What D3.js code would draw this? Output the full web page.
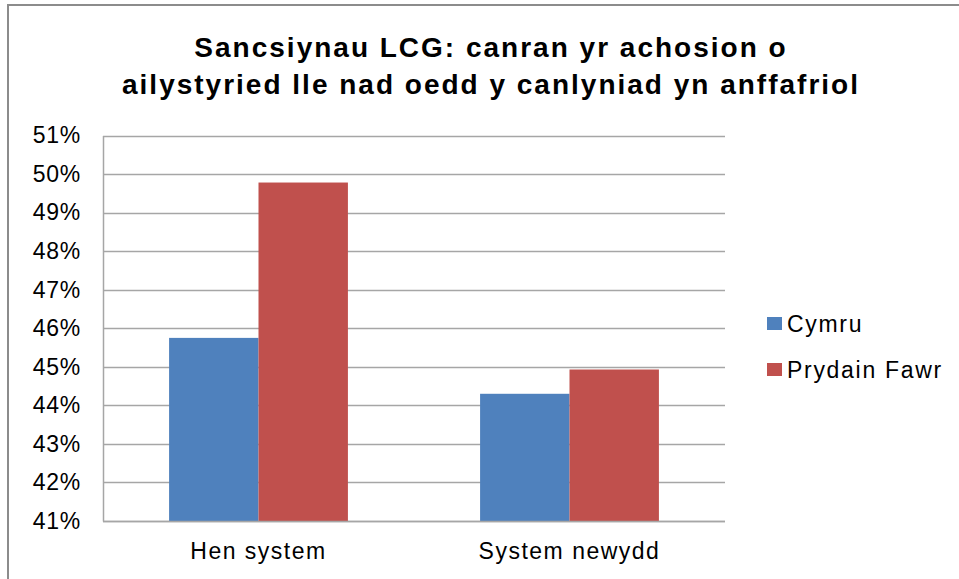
<!DOCTYPE html>
<html>
<head>
<meta charset="utf-8">
<script src="https://cdn.jsdelivr.net/npm/d3@7"></script>
<style>
  body { margin: 0; background: #fff; }
  text { font-family: "Liberation Sans", Arial, sans-serif; fill: #000; }
</style>
</head>
<body>
<div id="chart"></div>
<script>
// chart data
var categories = ["Hen system", "System newydd"];
var seriesNames = ["Cymru", "Prydain Fawr"];
var cymru = [0.4575, 0.4430];
var prydainFawr = [0.4978, 0.4493];
var yTicks = [0.41, 0.42, 0.43, 0.44, 0.45, 0.46, 0.47, 0.48, 0.49, 0.50, 0.51];
var titleLines = ["Sancsiynau LCG: canran yr achosion o", "ailystyried lle nad oedd y canlyniad yn anffafriol"];

var colors = ["#4F81BD", "#C0504D"];

var svgWidth = 959;
var svgHeight = 579;

var plot = { left: 103, right: 725, top: 135.5, bottom: 521 };

var svg = d3.select("#chart")
  .append("svg")
  .attr("width", svgWidth)
  .attr("height", svgHeight);

// outer chart border
svg.append("rect")
  .attr("x", 8)
  .attr("y", 5)
  .attr("width", svgWidth + 10)
  .attr("height", svgHeight + 10)
  .attr("fill", "none")
  .attr("stroke", "#8c8c8c")
  .attr("stroke-width", 2);

// title
svg.append("g").selectAll("text")
  .data(titleLines)
  .enter()
  .append("text")
  .attr("x", 491)
  .attr("y", (d, i) => 57 + i * 37)
  .attr("text-anchor", "middle")
  .attr("font-size", 28)
  .attr("font-weight", "bold")
  .attr("letter-spacing", 2)
  .text(d => d);

var yScale = d3.scaleLinear()
  .domain([0.41, 0.51])
  .range([plot.bottom, plot.top]);

var x0 = d3.scaleBand()
  .domain(categories)
  .range([plot.left, plot.right])
  .paddingInner(0.425)
  .paddingOuter(0.2125);

var x1 = d3.scaleBand()
  .domain(seriesNames)
  .range([0, x0.bandwidth()]);

// gridlines
svg.append("g").selectAll("line")
  .data(yTicks)
  .enter()
  .append("line")
  .attr("x1", plot.left)
  .attr("x2", plot.right)
  .attr("y1", d => Math.round(yScale(d)) + 0.5)
  .attr("y2", d => Math.round(yScale(d)) + 0.5)
  .attr("stroke", "#a6a6a6")
  .attr("stroke-width", 1.5);

// y axis
var leftAxis = d3.axisLeft(yScale)
  .tickValues(yTicks)
  .tickSize(0)
  .tickPadding(22)
  .tickFormat(d3.format(".0%"));

var yAxis = svg.append("g")
  .attr("transform", `translate(${plot.left}, 0)`)
  .call(leftAxis);
yAxis.select(".domain").attr("stroke", "#a6a6a6").attr("stroke-width", 1.5);
yAxis.selectAll("text")
  .attr("font-size", 23)
  .attr("fill", "#000")
  .attr("letter-spacing", 0.7)
  .style("font-family", "Liberation Sans, Arial, sans-serif");

// bars
var rows = categories.map((c, i) => ({ cat: c, values: [cymru[i], prydainFawr[i]] }));

var groups = svg.append("g").selectAll("g")
  .data(rows)
  .enter()
  .append("g")
  .attr("transform", d => `translate(${x0(d.cat)}, 0)`);

groups.selectAll("rect")
  .data(d => d.values.map((v, j) => ({ name: seriesNames[j], value: v, j: j })))
  .enter()
  .append("rect")
  .attr("x", d => x1(d.name))
  .attr("y", d => yScale(d.value))
  .attr("width", x1.bandwidth())
  .attr("height", d => yScale(0.41) - yScale(d.value))
  .attr("fill", d => colors[d.j]);

// x axis line
svg.append("line")
  .attr("x1", plot.left)
  .attr("x2", plot.right)
  .attr("y1", plot.bottom + 0.5)
  .attr("y2", plot.bottom + 0.5)
  .attr("stroke", "#a6a6a6")
  .attr("stroke-width", 1.5);

// category labels
svg.append("g").selectAll("text")
  .data(categories)
  .enter()
  .append("text")
  .attr("x", d => x0(d) + x0.bandwidth() / 2)
  .attr("y", 559)
  .attr("text-anchor", "middle")
  .attr("font-size", 23)
  .attr("letter-spacing", 1.5)
  .text(d => d);

// legend
var legend = svg.append("g").selectAll("g")
  .data(seriesNames)
  .enter()
  .append("g")
  .attr("transform", (d, i) => `translate(767, ${317 + i * 46})`);

legend.append("rect")
  .attr("width", 15)
  .attr("height", 13)
  .attr("fill", (d, i) => colors[i]);

legend.append("text")
  .attr("x", 20)
  .attr("y", 15)
  .attr("font-size", 23)
  .attr("letter-spacing", 1.7)
  .text(d => d);
</script>
</body>
</html>
